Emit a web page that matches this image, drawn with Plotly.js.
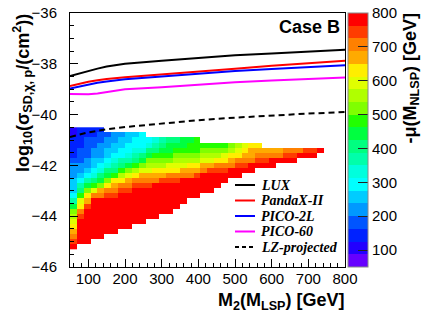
<!DOCTYPE html>
<html><head><meta charset="utf-8">
<script src="https://cdn.plot.ly/plotly-3.0.1.min.js"></script>
<style>html,body{margin:0;padding:0;background:#fff}#chart{width:433px;height:314px}</style>
</head><body><div id="chart"></div>
<script>
// ---- exclusion / projection curves (log10 sigma_SD in cm^2 vs M2 in GeV)
const massLimit   = [50, 75, 100, 125, 150, 200, 300, 400, 500, 600, 700, 800];
const luxLimit    = [-38.48, -38.38, -38.27, -38.19, -38.11, -38.00, -37.88, -37.76, -37.66, -37.59, -37.52, -37.45];
const pandaxLimit = [-38.87, -38.78, -38.71, -38.65, -38.60, -38.53, -38.41, -38.30, -38.19, -38.08, -37.97, -37.88];
const pico2lLimit = [-38.97, -38.89, -38.81, -38.75, -38.70, -38.61, -38.50, -38.39, -38.28, -38.20, -38.13, -38.06];
const pico60Limit = [-39.19, -39.20, -39.20, -39.17, -39.12, -39.00, -38.92, -38.82, -38.73, -38.66, -38.60, -38.54];
const lzProjected = [-40.88, -40.78, -40.70, -40.64, -40.58, -40.49, -40.35, -40.22, -40.12, -40.03, -39.96, -39.90];

// ---- 2D histogram of scan points: colour = -mu (M_NLSP) in GeV
const gridM2Start = 59.375, gridM2Step = 18.75, gridCols = 37;
const gridSigmaStart = -45.2, gridSigmaStep = 0.2;
// centre of each of the 20 colour bands (GeV)
const muLevels = [68.75, 106.25, 143.75, 181.25, 218.75, 256.25, 293.75, 331.25, 368.75, 406.25,
                  443.75, 481.25, 518.75, 556.25, 593.75, 631.25, 668.75, 706.25, 743.75, 781.25];
const levelCodes = "123456789ABCDEFGHIJK";
// one string per sigma row (lowest row first), one character per M2 column
const cellRows = [
  "K",
  "JKK",
  "IKKKK",
  "HKKKKKK",
  "GKKKKKKKK",
  "FKKKKKKKKKK",
  "EJKKKKKKKKKKK",
  "DIKKKKKKKKKKKKK",
  "BGJKKKKKKKKKKKKK",
  "9FHKKKKKKKKKKKKKK",
  "7CGIIJJKKKKKKKKKKKK",
  "6ADFHIIJJKKKKKKKKKKKK",
  "69BCDGHIIJJJKKKKKKKKKK",
  "679ABDGGHIIIIJJJKKKKKKK",
  "5678ABCEFGHHHHIIIIJKKKKKK",
  "55678AACDEFFGGGGHHHIJJJKKKK",
  "5556789ABCDEEEFFFGGHHIIIJJKKKK",
  "445667899ABDDDDEEEEFFGGHIIIJJKKKK",
  "3445567789ABCCCDDDDEEEFGGHHIIIIJJKKK",
  "34455667788AABBCCCCDDDDEFGHHHHHIIIJJK",
  "3344556677789ABBBCCCCCCDEFGG",
  "33444556677789AABBC",
  "23334455667",
  "23333"
];
const bandColors = ['#6600ff','#2200ff','#0022ff','#0055ff','#0099ff','#00ccff','#00ffff','#00ffdd',
                    '#00ffaa','#00ff80','#00ff40','#22ff00','#80ff00','#b0ff00','#e0ff00','#ffee00',
                    '#ffaa00','#ff8000','#ff3c00','#ff0000'];
const colorTicks = [100, 200, 300, 400, 500, 600, 700, 800];

const legendNames  = ['LUX', 'PandaX-II', 'PICO-2L', 'PICO-60', 'LZ-projected'];

const z = cellRows.map(row => {
  const out = [];
  for (let j = 0; j < gridCols; j++) {
    const ch = row[j];
    const k = ch ? levelCodes.indexOf(ch) : -1;
    out.push(k >= 0 ? muLevels[k] : null);
  }
  return out;
});
const cs = [];
bandColors.forEach((c, i) => { cs.push([i / 20, c]); cs.push([(i + 1) / 20, c]); });

const heat = {
  type: 'heatmap', z: z,
  x0: gridM2Start, dx: gridM2Step, y0: gridSigmaStart, dy: gridSigmaStep,
  zmin: 50, zmax: 800, colorscale: cs, zsmooth: false, hoverinfo: 'skip',
  colorbar: {
    x: 1.0109, xanchor: 'left', xpad: 0, y: 0.5, yanchor: 'middle', ypad: 0,
    len: 1, lenmode: 'fraction', thickness: 20, thicknessmode: 'pixels',
    outlinewidth: 1, outlinecolor: '#888',
    tickvals: colorTicks, ticks: 'inside', ticklen: 10, tickcolor: '#222', tickwidth: 1,
    tickfont: {size: 15, family: 'Liberation Sans, Arial, sans-serif', color: '#000'}
  }
};
const curveSets = [luxLimit, pandaxLimit, pico2lLimit, pico60Limit, lzProjected];
const curveColors = ['#000000', '#ff0000', '#0000ff', '#ff00ff', '#000000'];
const curveDash = ['solid', 'solid', 'solid', 'solid', '6px,4px'];
const traces = [heat];
curveSets.forEach((ys, i) => traces.push({
  type: 'scatter', mode: 'lines', name: legendNames[i], x: massLimit, y: ys,
  line: {color: curveColors[i], width: 2, dash: curveDash[i]}, hoverinfo: 'skip'
}));

// legend drawn inside plot (ROOT style)
const px2x = p => (p - 70) / 275, px2y = p => (267 - p) / 254;
const legendRowsPx = [185, 200.5, 216, 231.5, 247];
const shapes = [], annotations = [];
legendNames.forEach((n, i) => {
  shapes.push({type: 'line', xref: 'paper', yref: 'paper', x0: px2x(235), x1: px2x(255),
    y0: px2y(legendRowsPx[i]), y1: px2y(legendRowsPx[i]),
    line: {color: curveColors[i], width: 2, dash: i === 4 ? '4px,3px' : 'solid'}});
  annotations.push({xref: 'paper', yref: 'paper', x: px2x(259), y: px2y(legendRowsPx[i]),
    xanchor: 'left', yanchor: 'middle', showarrow: false, text: '<b><i>' + n + '</i></b>',
    font: {family: 'Liberation Serif, Times New Roman, serif', size: 14, color: '#000'}});
});
const sansBold = {family: 'Liberation Sans, Arial, sans-serif', size: 18, color: '#000'};
annotations.push({xref: 'paper', yref: 'paper', x: px2x(342), y: px2y(27), xanchor: 'right', yanchor: 'middle',
  showarrow: false, text: '<b>Case B</b>', font: sansBold});
annotations.push({xref: 'paper', yref: 'paper', x: px2x(347), y: px2y(301), xanchor: 'right', yanchor: 'middle',
  showarrow: false, text: '<b>M<sub>2</sub>(M<sub>LSP</sub>) [GeV]</b>', font: sansBold});
annotations.push({xref: 'paper', yref: 'paper', x: px2x(22), y: px2y(12), xanchor: 'center', yanchor: 'top',
  showarrow: false, textangle: -90, text: '<b>log<sub>10</sub>(σ<sub>SD,χ, p</sub>/(cm<sup>2</sup>))</b>', font: sansBold});
annotations.push({xref: 'paper', yref: 'paper', x: px2x(411), y: px2y(11), xanchor: 'center', yanchor: 'top',
  showarrow: false, textangle: -90, text: '<b>-μ(M<sub>NLSP</sub>) [GeV]</b>', font: sansBold});

const axisCommon = {
  ticks: 'inside', ticklen: 8, tickwidth: 1, tickcolor: '#000',
  showline: true, linecolor: '#000', linewidth: 1, mirror: true,
  showgrid: false, zeroline: false,
  tickfont: {size: 15, family: 'Liberation Sans, Arial, sans-serif', color: '#000'}
};
const layout = {
  width: 433, height: 314, margin: {l: 70, r: 88, t: 13, b: 47},
  paper_bgcolor: '#fff', plot_bgcolor: '#fff', showlegend: false,
  font: {family: 'Liberation Sans, Arial, sans-serif', color: '#000'},
  xaxis: Object.assign({}, axisCommon, {range: [50, 800], tick0: 0, dtick: 100,
    minor: {dtick: 20, ticks: 'inside', ticklen: 4, tickcolor: '#000'}, ticklabelstandoff: -2}),
  yaxis: Object.assign({}, axisCommon, {range: [-46, -36], tick0: 0, dtick: 2,
    minor: {dtick: 0.5, ticks: 'inside', ticklen: 4, tickcolor: '#000'}, ticklabelstandoff: 9}),
  shapes: shapes, annotations: annotations
};
Plotly.newPlot('chart', traces, layout, {staticPlot: true, displayModeBar: false});
</script></body></html>
